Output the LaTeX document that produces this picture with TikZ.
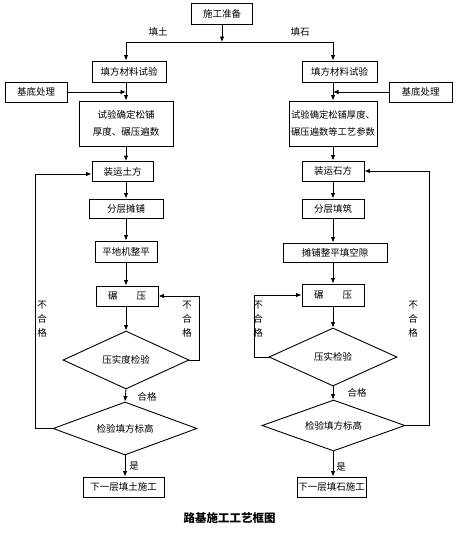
\documentclass[tikz,border=0pt]{standalone}
\usepackage{fontspec}
\newfontfamily\cjk{Noto Sans CJK SC}
\usetikzlibrary{shapes.geometric,arrows.meta,calc}
\begin{document}
\begin{tikzpicture}[x=1pt,y=-1pt,
  every node/.style={font=\cjk\fontsize{9.5}{12}\selectfont},
  box/.style={draw,line width=0.9pt,inner sep=0pt,align=center},
  dia/.style={draw,diamond,line width=0.9pt,inner sep=0pt,aspect=2},
  arr/.style={line width=0.9pt,-{Latex[length=5.5pt,width=4.5pt]}},
  ln/.style={line width=0.9pt},
  lbl/.style={inner sep=0pt},
  vlbl/.style={inner sep=0pt,align=center,font=\cjk\fontsize{9.5}{14}\selectfont}]
\useasboundingbox (0,0) rectangle (458,533);
\fill[white] (0,0) rectangle (458,533);
% columns
\coordinate (colL) at (126,0);
\coordinate (colR) at (333,0);
\coordinate (jL) at (126,42);
\coordinate (jR) at (333,42);
\coordinate (loopLi) at (199,0);
\coordinate (loopLo) at (35,0);
\coordinate (loopRi) at (254,0);
\coordinate (loopRo) at (429,0);
% boxes
\node[box,minimum width=61pt,minimum height=21pt] (prep) at (222,13.5) {施工准备};
\node[box,minimum width=74pt,minimum height=21pt] (L1) at (129,71.5) {填方材料试验};
\node[box,minimum width=75pt,minimum height=21pt] (R1) at (339.5,71.5) {填方材料试验};
\node[box,minimum width=62pt,minimum height=20pt] (LB) at (36,92) {基底处理};
\node[box,minimum width=63pt,minimum height=20pt] (RB) at (420.5,92) {基底处理};
\node[box,minimum width=94pt,minimum height=45pt,font=\cjk\fontsize{9.5}{17}\selectfont] (L2) at (126,123.5) {试验确定松铺\\厚度、碾压遍数};
\node[box,minimum width=88pt,minimum height=45pt,font=\cjk\fontsize{9.3}{17}\selectfont] (R2) at (333,123.5) {试验确定松铺厚度、\\碾压遍数等工艺参数};
\node[box,minimum width=61pt,minimum height=20pt] (L3) at (122.5,171.5) {装运土方};
\node[box,minimum width=62pt,minimum height=20pt] (R3) at (333,171) {装运石方};
\node[box,minimum width=74pt,minimum height=19pt] (L4) at (126,208.5) {分层摊铺};
\node[box,minimum width=62pt,minimum height=19pt] (R4) at (333,208.5) {分层填筑};
\node[box,minimum width=62pt,minimum height=21pt] (L5) at (126,251.5) {平地机整平};
\node[box,minimum width=104pt,minimum height=19pt] (R5) at (335,252.5) {摊铺整平填空隙};
\node[box,minimum width=62pt,minimum height=20pt] (L6) at (127,296) {碾\hspace{2em}压};
\node[box,minimum width=62pt,minimum height=22pt] (R6) at (333,295) {碾\hspace{2em}压};
\node[dia,minimum width=126pt,minimum height=58pt] (LD1) at (126,360) {压实度检验};
\node[dia,minimum width=128pt,minimum height=58pt] (RD1) at (333,357) {压实检验};
\node[dia,minimum width=144pt,minimum height=53pt] (LD2) at (125,428.5) {检验填方标高};
\node[dia,minimum width=143pt,minimum height=51pt] (RD2) at (333.5,425.5) {检验填方标高};
\node[box,minimum width=81pt,minimum height=20pt] (L7) at (123.5,487) {下一层填土施工};
\node[box,minimum width=69pt,minimum height=20pt] (R7) at (331.5,487) {下一层填石施工};
% top split
\draw[arr] (prep.south) -- (prep.south |- jL);
\draw[arr] (prep.south |- jL) -- (jL) -- (jL |- L1.north);
\draw[arr] (prep.south |- jL) -- (jR) -- (jR |- R1.north);
% left column
\draw[arr] (L1.south -| colL) -- (L2.north -| colL);
\draw[arr] (LB.east) -- (LB.east -| colL);
\draw[arr] (L2.south -| colL) -- (L3.north -| colL);
\draw[arr] (L3.south -| colL) -- (L4.north -| colL);
\draw[arr] (L4.south -| colL) -- (L5.north -| colL);
\draw[arr] (L5.south -| colL) -- (L6.north -| colL);
\draw[arr] (L6.south -| colL) -- (LD1.north -| colL);
\draw[arr] (LD1.south) -- (LD2.north);
\draw[arr] (LD2.south) -- (L7.north -| LD2.south);
\draw[arr] (LD1.east) -- (LD1.east -| loopLi) |- (L6.east);
\draw[arr] (LD2.west) -- (LD2.west -| loopLo) |- ($(L3.west)+(0,2.5)$);
% right column
\draw[arr] (R1.south -| colR) -- (R2.north -| colR);
\draw[arr] (RB.west) -- (RB.west -| colR);
\draw[arr] (R2.south -| colR) -- (R3.north -| colR);
\draw[arr] (R3.south -| colR) -- (R4.north -| colR);
\draw[arr] (R4.south -| colR) -- (R5.north -| colR);
\draw[arr] (R5.south -| colR) -- (R6.north -| colR);
\draw[arr] (R6.south -| colR) -- (RD1.north -| colR);
\draw[arr] (RD1.south) -- (RD2.north -| RD1.south);
\draw[arr] (RD2.south -| RD1.south) -- (R7.north -| RD1.south);
\draw[arr] (RD1.west) -- (RD1.west -| loopRi) |- (R6.west);
\draw[arr] (RD2.east) -- (RD2.east -| loopRo) |- (R3.east);
% labels
\node[lbl] (tL) at (158,32) {填土};
\node[lbl] (tR) at (300,32) {填石};
\node[vlbl] (nL1) at (42,319) {不\\合\\格};
\node[vlbl] (nL2) at (187,319) {不\\合\\格};
\node[vlbl] (nR1) at (258,319) {不\\合\\格};
\node[vlbl] (nR2) at (413,319) {不\\合\\格};
\node[lbl] (hL) at (147,397) {合格};
\node[lbl] (hR) at (357,393) {合格};
\node[lbl] (yL) at (134,466) {是};
\node[lbl] (yR) at (341,467) {是};
\node[lbl,font=\cjk\bfseries\fontsize{11.5}{14}\selectfont] (title) at (229.5,518) {路基施工工艺框图};
\end{tikzpicture}
\end{document}
